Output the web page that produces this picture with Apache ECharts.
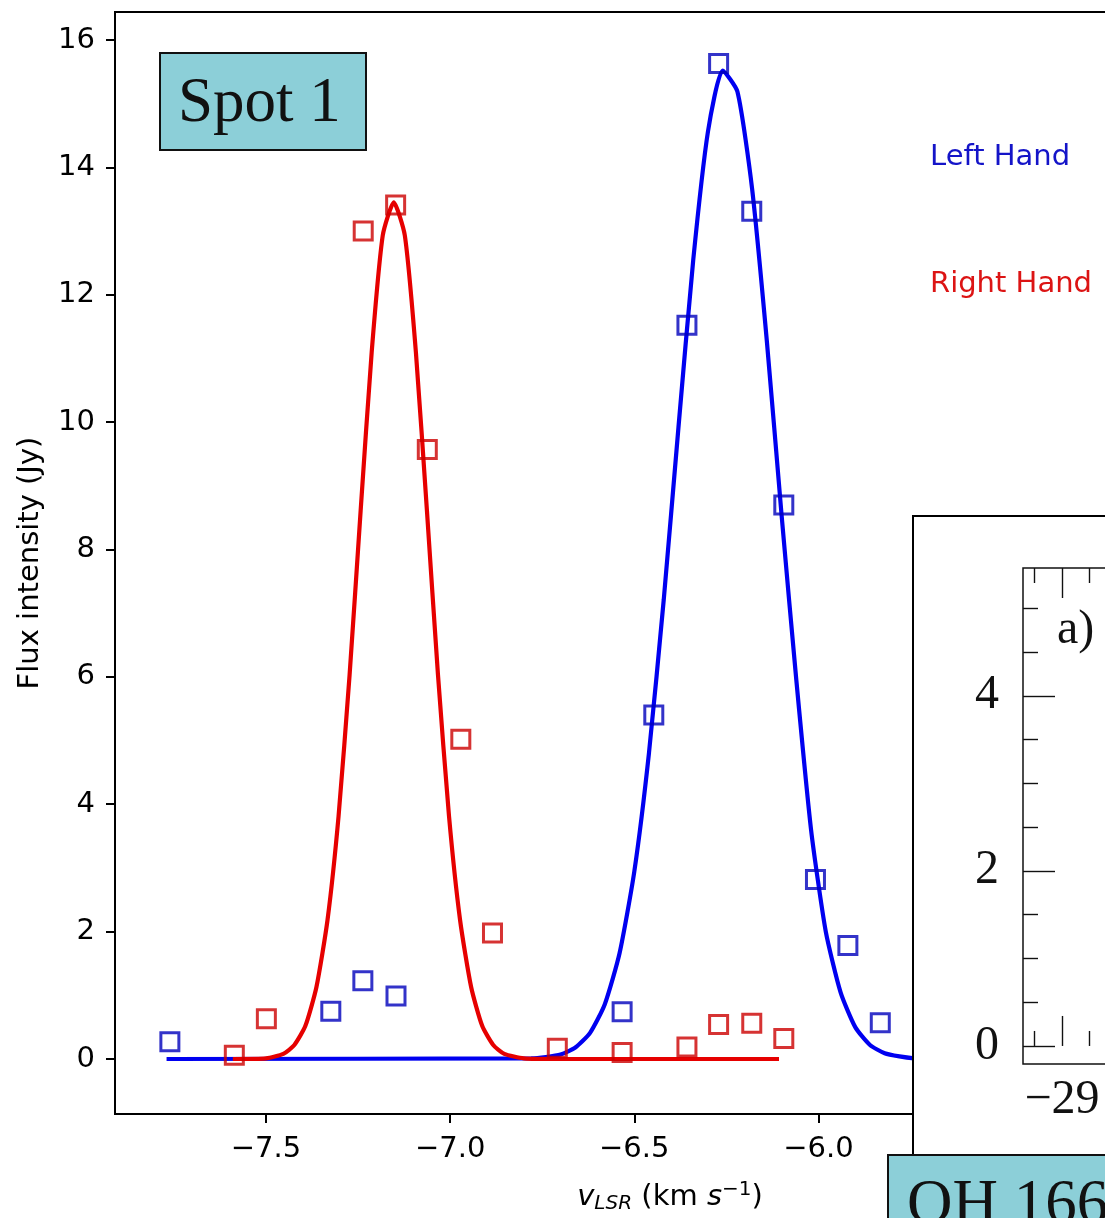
<!DOCTYPE html>
<html>
<head>
<meta charset="utf-8">
<script src="https://cdn.jsdelivr.net/npm/echarts@6/dist/echarts.min.js"></script>
<style>
html,body{margin:0;padding:0;background:#fff;}
#chart{width:1105px;height:1218px;}
</style>
</head>
<body>
<div id="chart"></div>
<script>
// ---- data ----
const blueX = [-7.761, -7.324, -7.237, -7.147, -6.533, -6.447, -6.357, -6.271, -6.181, -6.094, -6.008, -5.920, -5.832];
const blueY = [0.27, 0.75, 1.23, 0.99, 0.74, 5.40, 11.52, 15.63, 13.31, 8.70, 2.82, 1.78, 0.57];
const redX = [-7.586, -7.499, -7.236, -7.148, -7.062, -6.971, -6.885, -6.709, -6.533, -6.357, -6.271, -6.181, -6.094];
const redY = [0.06, 0.63, 13.00, 13.41, 9.57, 5.02, 1.98, 0.17, 0.10, 0.19, 0.54, 0.56, 0.32];

const blueFitX = [-7.77, -6.78, -6.74, -6.70, -6.66, -6.62, -6.58, -6.54, -6.50, -6.46, -6.42, -6.38, -6.34, -6.30, -6.26, -6.22, -6.18, -6.14, -6.10, -6.06, -6.02, -5.98, -5.94, -5.90, -5.86, -5.82, -5.78, -5.74, -5.70, -5.60];
const blueFitY = [0, 0.01, 0.03, 0.07, 0.18, 0.41, 0.86, 1.66, 2.94, 4.81, 7.21, 9.92, 12.54, 14.56, 15.52, 15.19, 13.66, 11.27, 8.54, 5.95, 3.60, 2.00, 1.05, 0.50, 0.22, 0.09, 0.04, 0.01, 0, 0];
const redFitX = [-7.59, -7.50, -7.453, -7.423, -7.393, -7.363, -7.333, -7.303, -7.273, -7.243, -7.213, -7.183, -7.153, -7.123, -7.093, -7.063, -7.033, -7.003, -6.973, -6.943, -6.913, -6.883, -6.853, -6.80, -6.70, -6.107];
const redFitY = [0, 0.01, 0.08, 0.22, 0.52, 1.13, 2.18, 3.81, 6.03, 8.61, 11.10, 12.93, 13.45, 12.93, 11.10, 8.61, 6.03, 3.81, 2.18, 1.13, 0.52, 0.22, 0.08, 0.01, 0, 0];

const xTicks = [-7.5, -7.0, -6.5, -6.0];
const yTicks = [0, 2, 4, 6, 8, 10, 12, 14, 16];
const insetXMajor = [-29];
const insetXMinor = [-29.2, -28.8];
const insetYMajor = [0, 2, 4];
const insetYMinor = [0.5, 1, 1.5, 2.5, 3, 3.5, 4.5, 5];

// ---- helpers ----
const zip = (a, b) => a.map((v, i) => [v, b[i]]);
const minusFmt1 = v => (v < 0 ? '\u2212' : '') + Math.abs(v).toFixed(1);
const minusFmt0 = v => (v < 0 ? '\u2212' : '') + Math.abs(v).toFixed(0);

const SANS = 'DejaVu Sans';
const SERIF = 'Liberation Serif';
const TEAL = '#8ccfd8';

const chart = echarts.init(document.getElementById('chart'), null, {renderer: 'canvas'});

function insetAxis(gridIndex, position, ticks, len, withLabels, isY) {
  return {
    gridIndex: gridIndex, type: 'value', position: position, z: 32,
    min: isY ? -0.206 : -29.284,
    max: isY ? 5.46 : -26.957,
    axisLine: {show: false},
    axisTick: {show: true, inside: true, length: len, customValues: ticks, lineStyle: {color: '#111', width: 1.4}},
    axisLabel: withLabels ? {show: true, customValues: ticks, formatter: minusFmt0, fontFamily: SERIF, fontSize: 48, color: '#111', margin: isY ? 24 : 12} : {show: false},
    splitLine: {show: false}
  };
}

const option = {
  animation: false,
  backgroundColor: '#fff',
  grid: [
    {left: 115, top: 12, width: 1110, height: 1102, show: true, borderColor: '#000', borderWidth: 2, backgroundColor: 'transparent', outerBoundsMode: 'none', containLabel: false},
    {left: 1023, top: 568, width: 320, height: 496, show: true, borderColor: '#111', borderWidth: 1.5, backgroundColor: 'transparent', z: 30, outerBoundsMode: 'none', containLabel: false},
    {left: 1023, top: 568, width: 320, height: 496, show: false, z: 30, outerBoundsMode: 'none', containLabel: false}
  ],
  xAxis: [
    {
      gridIndex: 0, type: 'value', min: -7.91, max: -4.896,
      axisLine: {show: true, onZero: false, lineStyle: {color: '#000', width: 2}},
      axisTick: {show: true, inside: false, length: 9, customValues: xTicks, lineStyle: {color: '#000', width: 2}},
      axisLabel: {show: true, customValues: xTicks, formatter: minusFmt1, fontFamily: SANS, fontSize: 29, color: '#000', margin: 21},
      splitLine: {show: false},
      name: '{i|v}{sub|LSR}{n| (km }{i|s}{sup|\u22121}{n|)}',
      nameLocation: 'middle', nameGap: 66,
      nameTextStyle: {
        fontFamily: SANS, fontSize: 29, color: '#000',
        rich: {
          i: {fontFamily: SANS, fontSize: 29, fontStyle: 'italic', color: '#000'},
          n: {fontFamily: SANS, fontSize: 29, color: '#000'},
          sub: {fontFamily: SANS, fontSize: 20, fontStyle: 'italic', color: '#000', padding: [14, 0, 0, 0]},
          sup: {fontFamily: SANS, fontSize: 20, color: '#000', padding: [0, 0, 14, 0]}
        }
      }
    },
    insetAxis(1, 'bottom', insetXMajor, 30, true, false),
    insetAxis(1, 'top', insetXMajor, 30, false, false),
    insetAxis(2, 'bottom', insetXMinor, 15, false, false),
    insetAxis(2, 'top', insetXMinor, 15, false, false)
  ],
  yAxis: [
    {
      gridIndex: 0, type: 'value', min: -0.864, max: 16.44,
      axisLine: {show: true, onZero: false, lineStyle: {color: '#000', width: 2}},
      axisTick: {show: true, inside: false, length: 9, customValues: yTicks, lineStyle: {color: '#000', width: 2}},
      axisLabel: {show: true, customValues: yTicks, fontFamily: SANS, fontSize: 29, color: '#000', margin: 20},
      splitLine: {show: false},
      name: 'Flux intensity (Jy)', nameLocation: 'middle', nameRotate: 90, nameGap: 70,
      nameTextStyle: {fontFamily: SANS, fontSize: 29, color: '#000'}
    },
    insetAxis(1, 'left', insetYMajor, 32, true, true),
    insetAxis(2, 'left', insetYMinor, 15, false, true)
  ],
  series: [
    {
      name: 'Left Hand fit', type: 'line', xAxisIndex: 0, yAxisIndex: 0,
      data: zip(blueFitX, blueFitY), showSymbol: false, symbol: 'none', smooth: 0.2,
      lineStyle: {color: '#0000f0', width: 4.2}, z: 2, silent: true
    },
    {
      name: 'Right Hand fit', type: 'line', xAxisIndex: 0, yAxisIndex: 0,
      data: zip(redFitX, redFitY), showSymbol: false, symbol: 'none', smooth: 0.2,
      lineStyle: {color: '#e60000', width: 4.2}, z: 2, silent: true
    },
    {
      name: 'Left Hand', type: 'scatter', xAxisIndex: 0, yAxisIndex: 0,
      data: zip(blueX, blueY), symbol: 'rect', symbolSize: 18,
      itemStyle: {color: 'rgba(255,255,255,0)', borderColor: '#0000bb', borderWidth: 3}, z: 3
    },
    {
      name: 'Right Hand', type: 'scatter', xAxisIndex: 0, yAxisIndex: 0,
      data: zip(redX, redY), symbol: 'rect', symbolSize: 18,
      itemStyle: {color: 'rgba(255,255,255,0)', borderColor: '#cc0000', borderWidth: 3}, z: 3
    }
  ],
  graphic: [
    {type: 'rect', z: 10, shape: {x: 160, y: 53, width: 206, height: 97},
      style: {fill: TEAL, stroke: '#111', lineWidth: 2}},
    {type: 'text', z: 11, x: 178, y: 104,
      style: {text: 'Spot 1', font: '63px "Liberation Serif"', fill: '#111',
        align: 'left', textAlign: 'left', verticalAlign: 'middle', textVerticalAlign: 'middle'}},
    {type: 'text', z: 11, x: 930, y: 157,
      style: {text: 'Left Hand', font: '29px "DejaVu Sans"', fill: '#1414c8',
        align: 'left', textAlign: 'left', verticalAlign: 'middle', textVerticalAlign: 'middle'}},
    {type: 'text', z: 11, x: 930, y: 284,
      style: {text: 'Right Hand', font: '29px "DejaVu Sans"', fill: '#dc1414',
        align: 'left', textAlign: 'left', verticalAlign: 'middle', textVerticalAlign: 'middle'}},
    {type: 'rect', z: 20, shape: {x: 913, y: 516, width: 400, height: 800},
      style: {fill: '#fff', stroke: '#000', lineWidth: 2}},
    {type: 'text', z: 35, x: 1057, y: 630,
      style: {text: 'a)', font: '48px "Liberation Serif"', fill: '#111',
        align: 'left', textAlign: 'left', verticalAlign: 'middle', textVerticalAlign: 'middle'}},
    {type: 'rect', z: 40, shape: {x: 888, y: 1155, width: 300, height: 120},
      style: {fill: TEAL, stroke: '#111', lineWidth: 2}},
    {type: 'text', z: 41, x: 907, y: 1206,
      style: {text: 'OH 1665', font: '63px "Liberation Serif"', fill: '#111',
        align: 'left', textAlign: 'left', verticalAlign: 'middle', textVerticalAlign: 'middle'}}
  ]
};

chart.setOption(option);
</script>
</body>
</html>
